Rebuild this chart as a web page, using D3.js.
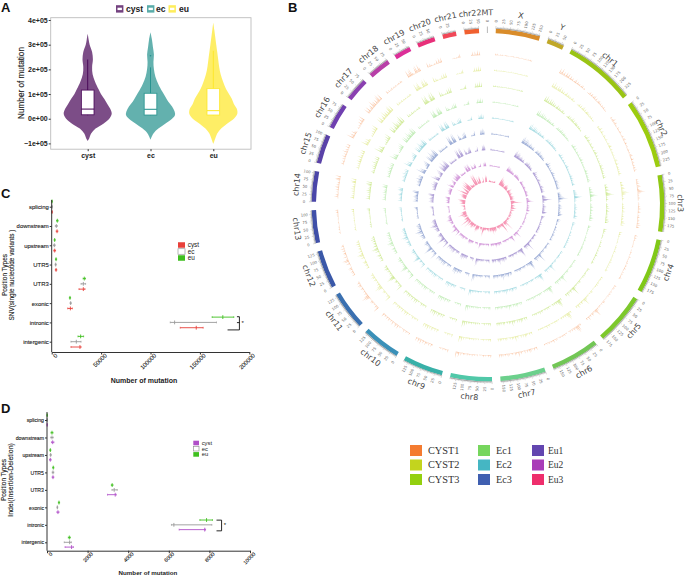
<!DOCTYPE html>
<html><head><meta charset="utf-8">
<script src="https://cdn.jsdelivr.net/npm/d3@7"></script>
<style>html,body{margin:0;padding:0;background:#fff;overflow:hidden}svg{display:block}text{font-family:"Liberation Sans",Arial,sans-serif}</style>
</head><body><svg id="c" width="685" height="576"></svg>
<script>
// ---- Panel A ----
const violinGroups = ["cyst","ec","eu"];
const violinColors = ["#440154","#21908c","#fde725"];
const cystVals = [3.45,3.2,3.0,2.7,2.4,2.1,1.8,1.5,1.2,1.0,.8,.6,.4,.2,0,-.2,-.4,-.6,-.8,-.9];
const cystDens = [0,1,2,4.5,5.3,4.5,5,7.5,11,13.5,17,20,23,24.5,22,16,8,3.5,1.5,0];
const ecVals = [3.5,3.2,2.9,2.6,2.3,2.0,1.7,1.4,1.1,.9,.7,.5,.3,.15,0,-.2,-.4,-.6,-.85];
const ecDens = [0,1.5,2.5,3.5,3,3.5,5,8,12,15,18,22,24.5,25,22,15,8,3,0];
const euVals = [3.9,3.6,3.3,3,2.7,2.4,2.1,1.8,1.5,1.2,1.0,.8,.6,.4,.2,0,-.2,-.4,-.6,-.8,-1.02];
const euDens = [0,1,2,3,4,5,6,7.5,10,13,16,19,21,24,24.5,21,14,8,4,2,0];
const boxQ1 = [.16,.15,.15], boxMed = [.39,.38,.33], boxQ3 = [1.16,1.03,1.22];
const boxLow = [.14,.14,.14], boxHigh = [2.4,2.08,2.75];
const violinOutliers = [null,2.55,null];
const violinTicks = [-1,0,1,2,3,4];
const violinTickLabels = ["\u22121e+05","0e+00","1e+05","2e+05","3e+05","4e+05"];

// ---- Panels C, D ----
const positionTypes = ["splicing","downstream","upstream","UTR5","UTR3","exonic","intronic","intergenic"];
const positionSeries = ["eu","ec","cyst"];
const snvEuMid = [300,5700,3000,4400,33000,18500,173200,29300];
const snvEuLow = [100,4900,2500,3800,31800,17900,162400,26600];
const snvEuHigh = [500,6500,3500,5000,34200,19100,184300,32300];
const snvEcMid = [300,4700,2700,4000,32000,19200,124400,24900];
const snvEcLow = [100,3700,1900,3400,29700,18600,120000,19500];
const snvEcHigh = [500,5700,3500,4600,34300,19800,166800,29700];
const snvCystMid = [300,5400,3000,4400,32000,18900,146300,28600];
const snvCystLow = [100,4600,2100,3700,27600,16200,130100,19500];
const snvCystHigh = [500,6200,3900,5100,33700,20900,153300,29700];
const snvTicks = [0,50000,100000,150000,200000];
const indelEuMid = [10,246,164,310,3210,590,7860,1100];
const indelEuLow = [2,196,139,280,3170,560,7530,1050];
const indelEuHigh = [20,296,189,340,3250,620,8150,1150];
const indelEcMid = [10,246,180,295,3310,510,6250,1115];
const indelEcLow = [2,186,150,255,3200,490,6130,850];
const indelEcHigh = [20,306,210,335,3460,530,8120,1200];
const indelCystMid = [10,280,164,295,3360,540,7770,1210];
const indelCystLow = [2,220,124,255,2980,490,6510,890];
const indelCystHigh = [20,340,204,335,3410,590,7810,1300];
const indelTicks = [0,2000,4000,6000,8000,10000];

// ---- Panel B ----
const chromNames = ["chr1","chr2","chr3","chr4","chr5","chr6","chr7","chr8","chr9","chr10","chr11","chr12","chr13","chr14","chr15","chr16","chr17","chr18","chr19","chr20","chr21","chr22","MT","X","Y"];
const chromLengths = [249,243,198,191,181,171,159,146,141,135,135,133,115,107,102,90,81,78,59,63,48,51,0.0166,155,59];
const chromColors = ["#9ac414","#9ccc10","#8fc814","#80c818","#7dc82c","#72c655","#6cd08c","#50c8a8","#38b0a8","#3a90b8","#3a70b0","#3a58a8","#3f4fa8","#4a46a8","#5a42a8","#7040b0","#8a40b0","#b83fa8","#dc2f98","#e8307a","#f04858","#f06030","#999999","#d98c2a","#c0a828"];
const samples = ["CYST1","CYST2","CYST3","Ec1","Ec2","Ec3","Eu1","Eu2","Eu3"];
const sampleColors = ["#f47b30","#c3d41e","#93d00f","#76d65d","#45b6c3","#3f5fb0","#6346b0","#a93cb8","#ee2e6c"];
const sampleGain = [.95,.95,1,.95,.95,1.05,1.05,.9,1.15];
const chr1Bins = [8,5,9,4,7,3,8,5,8,3,7,4,6,2,5,7,3,6,4,5,2,5,6,2,4,0,0,0,1,3,6,3,6,2,5,7,3,6,2,5,6,4,5,2,5,3,5,2,3,2];
const chr2Bins = [5,3,5,7,2,4,6,3,3,1,5,4,2,3,5,2,1,3,5,2,5,6,2,3,5,2,3,4,2,3,4,2,4,1,5,6,3,4,6,2,4,5,3,5,2,5,3,6,2];
const chr3Bins = [5,3,5,6,2,6,7,3,5,8,10,7,3,4,2,5,2,1,0,2,4,2,5,3,6,2,4,6,2,4,3,5,2,5,4,2,6,7,3,6];
const chr4Bins = [6,3,5,2,4,1,3,2,2,3,1,0,2,1,4,2,3,1,5,2,2,1,3,4,1,3,4,2,5,3,2,4,1,4,2,3,5,3];
const chr5Bins = [5,2,4,3,1,3,4,2,5,3,4,1,1,2,1,4,5,2,4,1,3,4,2,5,6,10,6,3,4,6,2,5,3,7,2,5];
const chr6Bins = [5,3,9,10,8,4,6,3,5,2,5,1,0,3,2,5,3,5,2,4,3,1,4,5,2,6,3,4,2,5,3,4,2,4];
const chr7Bins = [6,3,6,2,4,6,7,3,6,2,6,1,3,6,4,8,3,5,6,2,5,3,1,5,6,2,5,3,5,6,3,6];
const chr8Bins = [6,3,5,2,4,1,5,3,2,1,0,4,1,4,2,5,3,4,2,5,3,4,5,2,6,3,8,5,9];
const chr9Bins = [6,2,4,3,5,2,4,2,0,0,0,0,0,3,6,2,6,3,5,7,2,6,3,8,4,7,3,7];
const chr10Bins = [5,2,4,5,2,6,3,2,1,4,2,7,3,7,4,2,7,3,5,2,6,3,6,2,5,3,7];
const chr11Bins = [9,4,6,2,4,2,5,6,2,1,3,8,10,8,4,6,3,5,2,4,6,2,6,7,3,6,3];
const chr12Bins = [6,3,5,6,2,6,7,2,1,3,7,3,8,9,5,2,7,3,5,6,2,6,3,7,2,6,4];
const chr13Bins = [0,0,0,1,4,2,4,1,3,2,1,2,3,1,3,2,1,3,4,2,5,3,6];
const chr14Bins = [0,0,0,1,7,4,6,2,5,3,6,2,7,4,6,3,5,2,7,8,3,8];
const chr15Bins = [0,0,0,1,6,3,5,2,6,3,7,4,6,3,8,4,6,2,7,3,7];
const chr16Bins = [10,6,8,4,8,5,1,0,0,4,2,5,3,7,4,8,5,9];
const chr17Bins = [9,5,9,3,6,8,4,10,7,8,4,8,5,9,10,4,9];
const chr18Bins = [6,2,5,2,3,5,1,4,2,4,1,3,4,2,5,3];
const chr19Bins = [10,7,9,10,6,3,2,9,10,6,10,7];
const chr20Bins = [8,3,6,4,2,1,4,2,7,3,8,5,8];
const chr21Bins = [0,0,0,2,3,1,3,2,5,7];
const chr22Bins = [0,0,0,3,7,3,7,4,8,3,7];
const chrMTBins = [];
const chrXBins = [4,2,4,1,3,2,3,1,3,2,1,1,1,2,1,3,1,2,1,2,1,2,1,1,2,3,1,3,2,4,3];
const chrYBins = [0,0,0,0,0,0,0,0,0,0,0,0];
const allBins = [chr1Bins,chr2Bins,chr3Bins,chr4Bins,chr5Bins,chr6Bins,chr7Bins,chr8Bins,chr9Bins,chr10Bins,chr11Bins,chr12Bins,chr13Bins,chr14Bins,chr15Bins,chr16Bins,chr17Bins,chr18Bins,chr19Bins,chr20Bins,chr21Bins,chr22Bins,chrMTBins,chrXBins,chrYBins];

const svg = d3.select("#c");
const rad = Math.PI/180;
function panelLetter(t,x,y){svg.append("text").attr("x",x).attr("y",y).attr("font-size",13).attr("font-weight","bold").attr("fill","#111").text(t);}
panelLetter("A",1,12);panelLetter("B",288,12);panelLetter("C",1,198);panelLetter("D",1,413);

// ================= Panel A =================
(function(){
  const A = svg.append("g");
  const y = d3.scaleLinear().domain([-1,4]).range([143.4,20]);
  const x = d3.scalePoint().domain(violinGroups).range([87.7,213.3]);
  const w = d3.scaleLinear().domain([0,25]).range([0,24.5]);
  A.append("rect").attr("x",50.7).attr("y",17.7).attr("width",200.3).attr("height",131.5).attr("fill","none").attr("stroke","#bdbdbd").attr("stroke-width",.9);
  const vals=[cystVals,ecVals,euVals], dens=[cystDens,ecDens,euDens];
  violinGroups.forEach((g,i)=>{
    const cx=x(g);
    const area=d3.area().curve(d3.curveCatmullRom).y(k=>y(vals[i][k])).x0(k=>cx-w(dens[i][k])).x1(k=>cx+w(dens[i][k]));
    A.append("path").attr("d",area(d3.range(vals[i].length))).attr("fill",violinColors[i]).attr("fill-opacity",.7);
    A.append("line").attr("x1",cx).attr("x2",cx).attr("y1",y(boxLow[i])).attr("y2",y(boxHigh[i])).attr("stroke",violinColors[i]).attr("stroke-width",.9);
    A.append("rect").attr("x",cx-6.3).attr("width",12.6).attr("y",y(boxQ3[i])).attr("height",y(boxQ1[i])-y(boxQ3[i])).attr("fill","#fff").attr("stroke",violinColors[i]).attr("stroke-opacity",.85).attr("stroke-width",.9);
    A.append("line").attr("x1",cx-6.3).attr("x2",cx+6.3).attr("y1",y(boxMed[i])).attr("y2",y(boxMed[i])).attr("stroke",violinColors[i]).attr("stroke-opacity",.85).attr("stroke-width",1.2);
    if(violinOutliers[i]!=null)A.append("circle").attr("cx",cx).attr("cy",y(violinOutliers[i])).attr("r",.8).attr("fill",violinColors[i]);
  });
  const ay=A.append("g").attr("transform","translate(50.7,0)").call(d3.axisLeft(y).tickValues(violinTicks).tickFormat((d,i)=>violinTickLabels[i]).tickSize(2).tickPadding(1));
  ay.select(".domain").remove();
  ay.selectAll("text").attr("font-size",7).attr("font-weight","bold").attr("fill","#222").style("font-family",'"Liberation Sans"');
  ay.selectAll("line").attr("stroke","#333");
  const ax=A.append("g").attr("transform","translate(0,149.2)").call(d3.axisBottom(x).tickSize(2).tickPadding(2));
  ax.select(".domain").remove();
  ax.selectAll("text").attr("font-size",7).attr("font-weight","bold").attr("fill","#222").style("font-family",'"Liberation Sans"');
  ax.selectAll("line").attr("stroke","#333");
  A.append("text").attr("transform","translate(23.5,83) rotate(-90)").attr("text-anchor","middle").attr("font-size",8.2).attr("fill","#222").attr("stroke","#222").attr("stroke-width",.15).text("Number of mutation");
  const keyX=[116,147,168.5], txtX=[126,156,179];
  violinGroups.forEach((g,i)=>{
    A.append("rect").attr("x",keyX[i]).attr("y",5.2).attr("width",7.4).attr("height",7.4).attr("fill",violinColors[i]).attr("fill-opacity",.75);
    A.append("line").attr("x1",keyX[i]+1.5).attr("x2",keyX[i]+5.9).attr("y1",8.9).attr("y2",8.9).attr("stroke","#fff").attr("stroke-width",2.4);
    A.append("text").attr("x",txtX[i]).attr("y",12).attr("font-size",8.6).attr("font-weight","bold").attr("fill","#222").text(g);
  });
})();

// ================= Panels C / D =================
function positionPanel(o){
  const g=svg.append("g");
  const x=d3.scaleLinear().domain([0,o.ticks[o.ticks.length-1]]).range([o.x0,o.x1]);
  const y=d3.scalePoint().domain(positionTypes).range([o.yFirst,o.yLast]);
  const off=d3.scalePoint().domain(positionSeries).range([-o.off,o.off]);
  const series={eu:o.eu,ec:o.ec,cyst:o.cyst};
  const cols={eu:"#3fbf1f",ec:"#9a9a9a",cyst:o.color};
  positionSeries.forEach(s=>{
    positionTypes.forEach((t,i)=>{
      const yy=y(t)+off(s), d=series[s];
      g.append("line").attr("x1",x(d.low[i])).attr("x2",x(d.high[i])).attr("y1",yy).attr("y2",yy).attr("stroke",cols[s]).attr("stroke-width",.9);
      [d.low[i],d.high[i]].forEach(v=>g.append("line").attr("x1",x(v)).attr("x2",x(v)).attr("y1",yy-.9).attr("y2",yy+.9).attr("stroke",cols[s]).attr("stroke-width",.7));
      g.append("line").attr("x1",x(d.mid[i])).attr("x2",x(d.mid[i])).attr("y1",yy-1.9).attr("y2",yy+1.9).attr("stroke",cols[s]).attr("stroke-width",.9);
    });
  });
  const ay=g.append("g").attr("transform",`translate(${o.x0},0)`).call(d3.axisLeft(y).tickSize(2).tickPadding(1));
  ay.select(".domain").attr("d",`M0,${o.yTop}V${o.yAxis}`).attr("stroke","#333").attr("stroke-width",1);
  ay.selectAll("text").attr("font-size",o.fs).attr("fill","#222").attr("stroke","#222").attr("stroke-width",.12).style("font-family",'"Liberation Sans"');
  ay.selectAll("line").attr("stroke","#333");
  const ax=g.append("g").attr("transform",`translate(0,${o.yAxis})`).call(d3.axisBottom(x).tickValues(o.ticks).tickFormat(d3.format("d")).tickSize(2.5).tickSizeOuter(0).tickPadding(1));
  ax.select(".domain").attr("stroke","#333").attr("stroke-width",1);
  ax.selectAll("line").attr("stroke","#333");
  ax.selectAll("text").attr("font-size",o.fs).attr("fill","#222").attr("stroke","#222").attr("stroke-width",.1).style("font-family",'"Liberation Sans"').attr("text-anchor","end").attr("dx","0.2em").attr("dy","0.55em").attr("transform","rotate(-45)");
  g.append("text").attr("x",o.titleX).attr("y",o.titleY).attr("text-anchor","middle").attr("font-size",o.titleFs).attr("font-weight","bold").attr("fill","#222").text("Number of mutation");
  g.append("text").attr("transform",`translate(${o.t1x},${o.tCy}) rotate(-90)`).attr("text-anchor","middle").attr("font-size",6.5).attr("fill","#222").attr("stroke","#222").attr("stroke-width",.12).text("Position Types");
  g.append("text").attr("transform",`translate(${o.t2x},${o.tCy}) rotate(-90)`).attr("text-anchor","middle").attr("font-size",o.subFs).attr("fill","#222").attr("stroke","#222").attr("stroke-width",.12).text(o.sub);
  // significance bracket on the intronic group
  const yi=y("intronic"), b=g.append("g").attr("fill","none").attr("stroke","#111").attr("stroke-width",.9);
  const bx=x(o.brX), bt=yi+o.brTop, bb=yi+o.brBot;
  b.append("path").attr("d",d3.line()([[x(o.brLeftTop),bt],[bx,bt],[bx,bb],[x(o.brLeftBot),bb]]));
  if(o.brMid!=null) b.append("path").attr("d",d3.line()([[x(o.brLeftTop),yi+o.brMid],[bx,yi+o.brMid]]));
  g.append("text").attr("x",bx+2.2).attr("y",yi+2.6).attr("font-size",6).attr("fill","#111").text("*");
  // legend
  const names=["cyst","ec","eu"], keyC=[o.color,"#fff","#3fbf1f"];
  names.forEach((n,i)=>{
    const yy=o.legY+i*o.legStep;
    g.append("rect").attr("x",o.legX).attr("y",yy-o.legH/2).attr("width",o.legW).attr("height",o.legH).attr("fill",keyC[i]).attr("stroke",i==1?"#888":"none").attr("stroke-width",.6);
    g.append("text").attr("x",o.legX+o.legW+2.7).attr("y",yy+2).attr("font-size",o.legFs).attr("fill","#222").text(n);
  });
}
positionPanel({ticks:snvTicks,x0:51.7,x1:249.3,yFirst:206.7,yLast:341.7,yTop:200,yAxis:352,off:5.3,fs:5.9,color:"#e8403a",
  eu:{low:snvEuLow,mid:snvEuMid,high:snvEuHigh},ec:{low:snvEcLow,mid:snvEcMid,high:snvEcHigh},cyst:{low:snvCystLow,mid:snvCystMid,high:snvCystHigh},
  titleX:144,titleY:383,titleFs:7,t1x:7,t2x:14,tCy:275,sub:"SNV(single nucleotide variants )",subFs:6.4,
  brX:190000,brLeftTop:187500,brLeftBot:178000,brTop:-5.7,brBot:7.5,brMid:.2,legX:178,legY:245,legStep:6.5,legW:7,legH:5.5,legFs:6.4});
positionPanel({ticks:indelTicks,x0:47,x1:250,yFirst:420,yLast:542.3,yTop:412,yAxis:550.7,off:4.8,fs:5.2,color:"#b04fc8",
  eu:{low:indelEuLow,mid:indelEuMid,high:indelEuHigh},ec:{low:indelEcLow,mid:indelEcMid,high:indelEcHigh},cyst:{low:indelCystLow,mid:indelCystMid,high:indelCystHigh},
  titleX:148,titleY:575,titleFs:6.2,t1x:5.5,t2x:13,tCy:480,sub:"Indel(Insertion-Deletion)",subFs:6.9,
  brX:8600,brLeftTop:8350,brLeftBot:8350,brTop:-4.7,brBot:6,brMid:null,legX:193.3,legY:443,legStep:5.7,legW:5.7,legH:4.6,legFs:5.8});

// ================= Panel B =================
(function(){
  const cx=488, cy=205;
  const G=svg.append("g").attr("transform",`translate(${cx},${cy})`);
  const pad=2.75*rad, start=26.85*rad;
  const pie=d3.pie().sort(null).startAngle(start).endAngle(start+2*Math.PI).padAngle(pad);
  const arcs=pie(chromLengths).map((d,i)=>({i,name:chromNames[i],len:chromLengths[i],a0:d.startAngle+pad/2,a1:d.endAngle-pad/2}));
  const ringR=d3.scalePoint().domain(samples).range([150,23]);
  const h=d3.scalePow().exponent(2).domain([0,10]).range([0.6,9]);
  // tracks: narrow spikes pointing outward from each ring's base radius
  samples.forEach((s,si)=>{
    const base=ringR(s), half=.42/base;
    arcs.forEach(a=>{
      const bins=allBins[a.i]; if(!bins.some(v=>v>0))return;
      const ang=d3.scaleLinear().domain([0,bins.length]).range([a.a0,a.a1]);
      const pts=[];
      bins.forEach((v,k)=>{
        if(v<=0)return;
        const t=ang(k+.5);
        pts.push({a:t-half,r:base},{a:t,r:base+h(v*sampleGain[si])},{a:t+half,r:base});
      });
      const ar=d3.areaRadial().angle(p=>p.a).innerRadius(base).outerRadius(p=>p.r);
      G.append("path").attr("d",ar(pts)).attr("fill",sampleColors[si]).attr("fill-opacity",.5);
    });
  });
  // ideogram
  const rIn=172,rOut=176.5;
  const barArc=d3.arc().innerRadius(rIn).outerRadius(rOut);
  arcs.forEach(a=>{
    const scale=d3.scaleLinear().domain([0,a.len]).range([a.a0,a.a1]);
    if(a.name!=="MT"){
      G.append("path").attr("d",barArc({startAngle:a.a0,endAngle:a.a1})).attr("fill",chromColors[a.i]);
      G.append("path").attr("d",d3.arc().innerRadius(rOut).outerRadius(rOut+.8)({startAngle:a.a0,endAngle:a.a1})).attr("fill","#aaa");
      d3.range(0,a.len,5).forEach(m=>{
        const major=m%25===0, t=scale(m), r2=rOut+(major?2.6:1.7);
        G.append("line").attr("x1",Math.sin(t)*rOut).attr("y1",-Math.cos(t)*rOut).attr("x2",Math.sin(t)*r2).attr("y2",-Math.cos(t)*r2).attr("stroke","#999").attr("stroke-width",.4);
      });
    } else {
      const t=a.a0;
      G.append("line").attr("x1",Math.sin(t)*rIn).attr("y1",-Math.cos(t)*rIn).attr("x2",Math.sin(t)*(rOut+2)).attr("y2",-Math.cos(t)*(rOut+2)).attr("stroke","#888").attr("stroke-width",.6);
    }
    const labelTicks=a.name==="MT"?[0]:d3.range(0,a.len,25);
    labelTicks.forEach(m=>{
      const t=scale(m), deg=t/rad%360, r=184;
      const flip=deg>180;
      G.append("text").attr("transform",`translate(${Math.sin(t)*r},${-Math.cos(t)*r}) rotate(${flip?deg+90:deg-90})`).attr("text-anchor","middle").attr("dy",".35em").attr("font-size",3.8).attr("fill","#666").style("font-family",'"DejaVu Sans"').text(m);
    });
    const mid=(a.a0+a.a1)/2, deg=mid/rad%360, R=a.name==="chr1"||a.name==="chr2"?190:192.5;
    const flip=deg>90&&deg<270;
    G.append("text").attr("transform",`translate(${Math.sin(mid)*R},${-Math.cos(mid)*R}) rotate(${flip?deg+180:deg})`).attr("text-anchor","middle").attr("dy",".35em").attr("font-size",8).attr("fill","#444").style("font-family",'"DejaVu Sans"').text(a.name);
  });
  // legend
  samples.forEach((s,i)=>{
    const c=Math.floor(i/3), r=i%3, x=[410,478,532][c], yy=445+r*14.5;
    svg.append("rect").attr("x",x).attr("y",yy).attr("width",12).attr("height",11).attr("fill",sampleColors[i]);
    svg.append("text").attr("x",x+(c==2?16:18)).attr("y",yy+8.8).attr("font-size",c==2?9.5:10.3).attr("fill","#333").style("font-family",'"Liberation Serif"').text(s);
  });
})();
</script></body></html>
